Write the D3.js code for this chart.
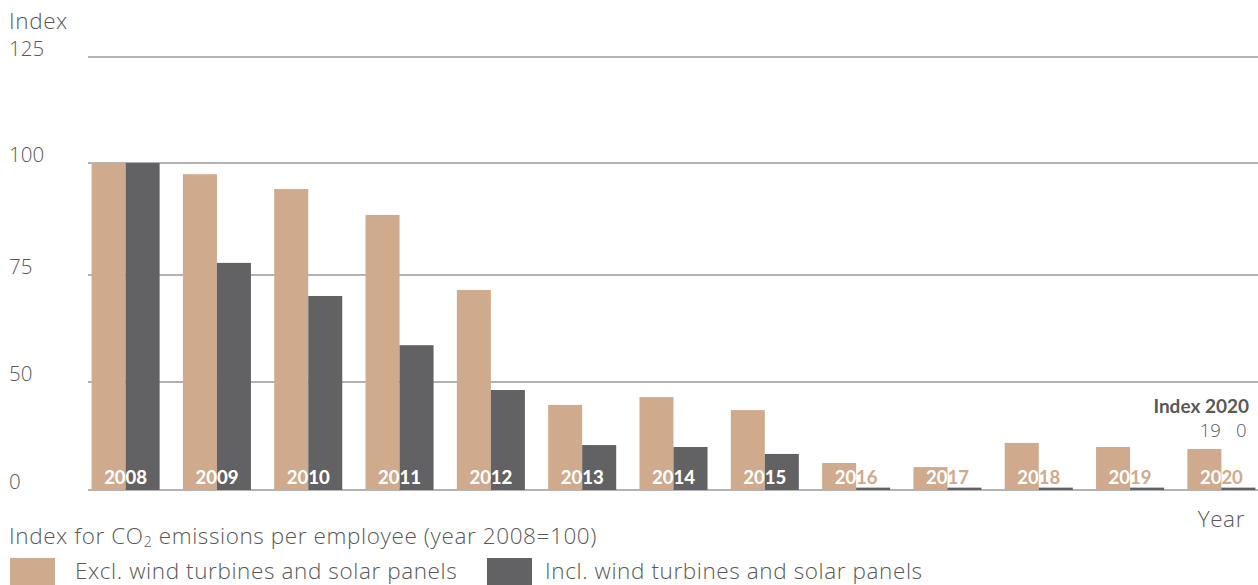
<!DOCTYPE html>
<html>
<head>
<meta charset="utf-8">
<script src="https://cdn.jsdelivr.net/npm/d3@7"></script>
<style>
  html, body { margin: 0; padding: 0; background: #fff; }
  svg { display: block; }
  text { font-family: "Open Sans", Lato, sans-serif; }
  text.b { font-family: Lato, "Open Sans", sans-serif; }
</style>
</head>
<body>
<svg id="chart" width="1258" height="585"></svg>
<script>
// ---- data ----
const years = ["2008","2009","2010","2011","2012","2013","2014","2015","2016","2017","2018","2019","2020"];
const exclValues = [100, 97.5, 94.2, 88.4, 71.5, 39.4, 43, 37, 12.5, 10.6, 21.8, 19.9, 19];
const inclValues = [100, 77.7, 70.1, 58.6, 46.3, 20.8, 19.9, 16.7, 1.1, 1.1, 1.1, 1.1, 1.1];
const tickValues = [0, 50, 75, 100, 125];
const seriesNames = ["Excl. wind turbines and solar panels", "Incl. wind turbines and solar panels"];
const annotationTitle = "Index 2020";
const annotationValues = ["19", "0"];
const yTitle = "Index";
const xTitle = "Year";
const caption = "Index for CO";
const colors = ["#CFAA8C", "#626264"];

const svg = d3.select("#chart");
const textColor = "#595959";
const lightSize = 22.5;
const spacing = 0.6;

// piecewise (non-linear) value axis as in the original
const y = d3.scaleLinear().domain(tickValues).range([490, 382, 275, 163, 57]);
const x0 = d3.scaleBand().domain(years).range([80, 1267]).paddingInner(0.255).paddingOuter(0.127);
const keys = ["excl", "incl"];
const x1 = d3.scaleBand().domain(keys).range([0, x0.bandwidth()]);
const color = d3.scaleOrdinal().domain(keys).range(colors);

const data = years.map((yr, i) => ({ year: yr, excl: exclValues[i], incl: inclValues[i] }));

// gridlines
svg.append("g").selectAll("line").data(tickValues).join("line")
  .attr("x1", 88).attr("x2", 1258)
  .attr("y1", d => y(d)).attr("y2", d => y(d))
  .attr("stroke", "#9a9a9a").attr("stroke-width", 1.5);

// tick labels
svg.append("g").selectAll("text").data(tickValues).join("text")
  .attr("x", 9).attr("y", d => y(d) - 1)
  .attr("fill", textColor).attr("font-size", 20.5).attr("font-weight", 300)
  .text(d => d);

svg.append("text").attr("x", 9).attr("y", 29)
  .attr("fill", textColor).attr("font-size", lightSize).attr("font-weight", 300)
  .attr("letter-spacing", spacing)
  .text(yTitle);

// bars
const barRects = [];
data.forEach(d => keys.forEach(k => barRects.push({ year: d.year, key: k, value: d[k] })));

svg.append("g").selectAll("rect").data(barRects).join("rect")
  .attr("x", d => x0(d.year) + x1(d.key))
  .attr("width", x1.bandwidth())
  .attr("y", d => y(d.value))
  .attr("height", d => y(0) - y(d.value))
  .attr("fill", d => color(d.key));

// clip path of bar union for white labels
const defs = svg.append("defs");
defs.append("clipPath").attr("id", "barclip").selectAll("rect").data(barRects).join("rect")
  .attr("x", d => x0(d.year) + x1(d.key))
  .attr("width", x1.bandwidth())
  .attr("y", d => y(d.value))
  .attr("height", d => y(0) - y(d.value));

const labelY = 484;
svg.append("g").selectAll("text").data(years).join("text").attr("class", "b")
  .attr("x", d => x0(d) + x0.bandwidth() / 2).attr("y", labelY)
  .attr("text-anchor", "middle").attr("font-size", 18.5).attr("font-weight", 700)
  .attr("fill", colors[0]).text(d => d);
svg.append("g").attr("clip-path", "url(#barclip)").selectAll("text").data(years).join("text").attr("class", "b")
  .attr("x", d => x0(d) + x0.bandwidth() / 2).attr("y", labelY)
  .attr("text-anchor", "middle").attr("font-size", 18.5).attr("font-weight", 700)
  .attr("fill", "#ffffff").text(d => d);

// annotation
const last = years[years.length - 1];
svg.append("text").attr("class", "b").attr("x", 1249).attr("y", 413)
  .attr("text-anchor", "end").attr("font-size", 19).attr("font-weight", 700)
  .attr("fill", textColor).text(annotationTitle);
svg.append("g").selectAll("text").data(keys).join("text")
  .attr("x", (k, i) => x0(last) + x1(k) + x1.bandwidth() / 2 + (i === 0 ? 6 : 3))
  .attr("y", 437).attr("text-anchor", "middle")
  .attr("font-size", 18.5).attr("font-weight", 300).attr("fill", textColor)
  .text((k, i) => annotationValues[i]);

// x title
svg.append("text").attr("x", 1245).attr("y", 527)
  .attr("text-anchor", "end").attr("font-size", lightSize).attr("font-weight", 300)
  .attr("letter-spacing", spacing)
  .attr("fill", textColor).text(xTitle);

// caption with subscript
const cap = svg.append("text").attr("x", 9).attr("y", 544)
  .attr("font-size", lightSize).attr("font-weight", 300).attr("fill", textColor)
  .attr("letter-spacing", spacing);
cap.append("tspan").text(caption);
cap.append("tspan").attr("font-size", 14).attr("dy", 3).text("2");
cap.append("tspan").attr("dy", -3).text(" emissions per employee (year 2008=100)");

// legend
const legendX = [10, 487];
const legend = svg.append("g").selectAll("g").data(keys).join("g")
  .attr("transform", (k, i) => `translate(${legendX[i]},558)`);
legend.append("rect").attr("width", 45).attr("height", 30).attr("fill", d => color(d));
legend.append("text").attr("x", (k, i) => i === 0 ? 65 : 58).attr("y", 21)
  .attr("font-size", lightSize).attr("font-weight", 300).attr("fill", textColor)
  .attr("letter-spacing", spacing)
  .text((k, i) => seriesNames[i]);
</script>
</body>
</html>
